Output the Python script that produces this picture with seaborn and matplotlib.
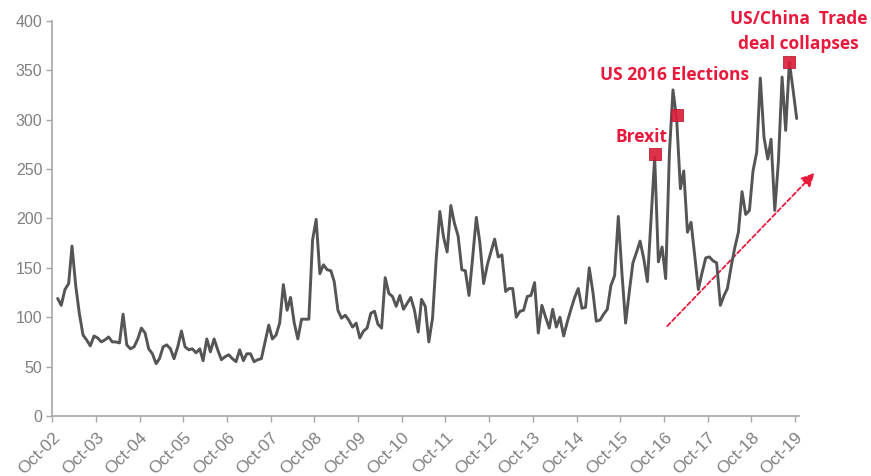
import matplotlib
matplotlib.use('Agg')
import numpy as np
import pandas as pd
import matplotlib.pyplot as plt
import seaborn as sns

# Monthly index values, Nov-02 .. Oct-19
values = [
    119, 112, 128, 134, 172, 132, 104, 82, 77, 71,
    81, 79, 75, 77, 80, 75, 75, 74, 103, 72,
    68, 70, 78, 89, 84, 68, 63, 53, 58, 70,
    72, 68, 58, 70, 86, 70, 67, 68, 64, 68,
    56, 78, 65, 78, 67, 57, 60, 62, 58, 55,
    67, 56, 63, 63, 55, 57, 58, 75, 92, 78,
    82, 94, 133, 107, 120, 94, 78, 98, 98, 98,
    178, 199, 144, 153, 148, 147, 136, 107, 99, 102,
    97, 90, 94, 79, 86, 89, 104, 106, 93, 89,
    140, 124, 121, 111, 122, 108, 114, 120, 107, 85,
    118, 111, 75, 99, 158, 207, 181, 166, 213, 195,
    182, 148, 147, 122, 160, 201, 175, 134, 153, 166,
    179, 161, 163, 126, 129, 129, 100, 106, 107, 121,
    122, 135, 84, 112, 100, 89, 108, 90, 100, 81,
    95, 108, 120, 129, 109, 110, 150, 125, 96, 97,
    103, 108, 132, 142, 202, 145, 94, 125, 155, 166,
    177, 159, 136, 200, 262, 156, 171, 139, 266, 330,
    300, 230, 248, 186, 196, 162, 128, 145, 160, 161,
    157, 155, 112, 122, 129, 151, 170, 186, 227, 204,
    208, 248, 267, 342, 282, 260, 280, 208, 257, 343,
    289, 358, 330, 301,
]
start_month = '2002-11-01'

tick_years = list(range(2002, 2020))
tick_labels = ['Oct-%02d' % (y % 100) for y in tick_years]

event_labels = ['Brexit', 'US 2016 Elections', 'US/China  Trade\ndeal collapses']
event_dates = ['2016-07-15', '2017-01-15', '2019-08-15']
event_values = [265, 305, 358]
label_offsets = [(-13, 17), (-2, 40), (9, 31)]  # pixels from the marker

trend_start = ('2016-10-28', 91)
trend_end = ('2020-03-13', 246)

RED = '#e8193c'
GREY_LINE = '#555555'
GREY_AXIS = '#a6a6a6'
GREY_TEXT = '#808080'

if __name__ == '__main__':
    sns.set_style('white')
    plt.rcParams['font.family'] = ['Liberation Sans', 'DejaVu Sans']

    dates = pd.date_range(start_month, periods=len(values), freq='MS') + pd.Timedelta(days=14)
    df = pd.DataFrame({'date': dates, 'value': values})

    fig = plt.figure(figsize=(8.71, 4.76), dpi=100)
    ax = fig.add_axes([0.060, 0.126, 0.857, 0.8305])

    sns.lineplot(data=df, x='date', y='value', ax=ax, color=GREY_LINE, linewidth=2.1, zorder=3)

    # Trend arrow
    ax.annotate('', xy=(pd.Timestamp(trend_end[0]), trend_end[1]),
                xytext=(pd.Timestamp(trend_start[0]), trend_start[1]),
                arrowprops=dict(arrowstyle='-|>,head_length=0.8,head_width=0.4',
                                color=RED, lw=1.3, linestyle=(0, (2.5, 1.5)),
                                shrinkA=0, shrinkB=0),
                annotation_clip=False, zorder=2)

    # Event markers and labels
    ev = pd.DataFrame({'date': pd.to_datetime(event_dates), 'value': event_values})
    sns.scatterplot(data=ev, x='date', y='value', ax=ax, marker='s', s=80,
                    color='#dc1f3a', edgecolor='#b8142d', linewidth=0.6, alpha=0.92, zorder=4)
    for lab, d, v, off in zip(event_labels, event_dates, event_values, label_offsets):
        ax.annotate(lab, xy=(pd.Timestamp(d), v), xytext=off, textcoords='offset pixels',
                    ha='center', va='center', color=RED, fontsize=12.5, fontweight='bold',
                    family=['Open Sans', 'DejaVu Sans'], linespacing=1.5,
                    annotation_clip=False)

    # Axes styling
    ax.set_xlim(pd.Timestamp('2002-10-01'), pd.Timestamp('2019-11-01'))
    ax.set_ylim(0, 400)
    ax.set_yticks(range(0, 401, 50))
    tick_dates = [pd.Timestamp('%d-10-01' % y) for y in tick_years]
    ax.set_xticks(tick_dates)
    ax.set_xticklabels(tick_labels, rotation=45, ha='right', rotation_mode='anchor')
    ax.tick_params(axis='both', colors=GREY_AXIS, labelcolor=GREY_TEXT, labelsize=11.5,
                   length=4, width=1, direction='out')
    ax.tick_params(axis='x', pad=6, labelsize=12.5, bottom=True)
    ax.tick_params(axis='y', pad=3, left=True)
    for side in ['top', 'right']:
        ax.spines[side].set_visible(False)
    for side in ['left', 'bottom']:
        ax.spines[side].set_color(GREY_AXIS)
        ax.spines[side].set_linewidth(1.2)
    ax.set_xlabel('')
    ax.set_ylabel('')

    fig.savefig('out.png', dpi=100)
